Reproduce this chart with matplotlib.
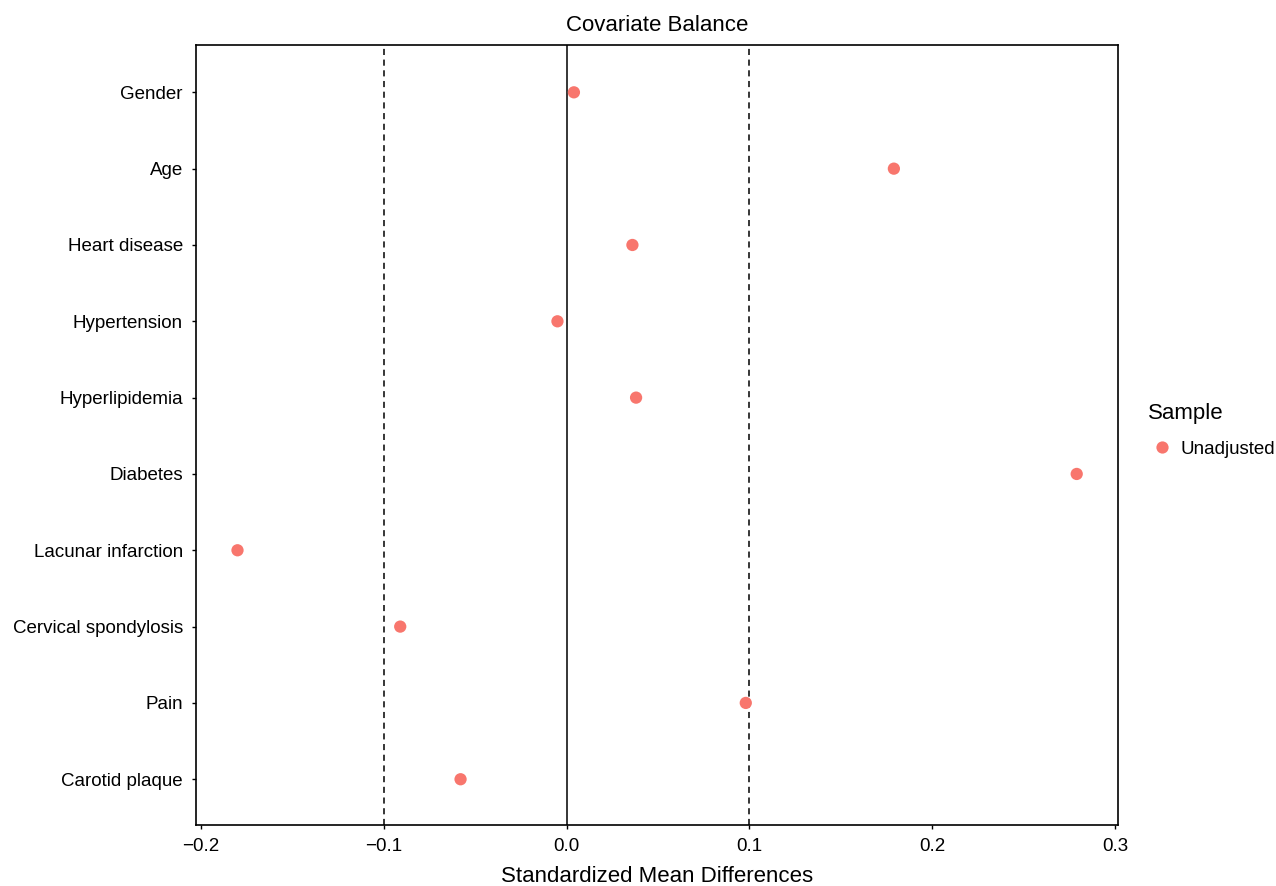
import matplotlib
matplotlib.use("Agg")
import matplotlib.pyplot as plt
from matplotlib.lines import Line2D

plt.rcParams['font.family'] = ['Liberation Sans', 'DejaVu Sans']

covariates = ['Gender', 'Age', 'Heart disease', 'Hypertension', 'Hyperlipidemia',
              'Diabetes', 'Lacunar infarction', 'Cervical spondylosis', 'Pain',
              'Carotid plaque']
smd = [0.004, 0.179, 0.036, -0.005, 0.038, 0.279, -0.180, -0.091, 0.098, -0.058]
xticks = [-0.2, -0.1, 0.0, 0.1, 0.2, 0.3]
xtick_labels = ['\u22120.2', '\u22120.1', '0.0', '0.1', '0.2', '0.3']

fig = plt.figure(figsize=(12.76, 8.86), dpi=100)
ax = fig.add_axes([0.1536, 0.0688, 0.7226, 0.8804])

ypos = list(range(len(covariates)))[::-1]

ax.axvline(0, color='black', lw=1.1, zorder=1)
for v in (-0.1, 0.1):
    ax.axvline(v, color='black', lw=1.1, ls=(0, (4, 3)), zorder=1)

ax.scatter(smd, ypos, s=78, color='#F8766D', edgecolors='none', zorder=3)

ax.set_xlim(-0.2027, 0.3016)
ax.set_ylim(-0.6, 9.62)
ax.set_xticks(xticks)
ax.set_xticklabels(xtick_labels)
ax.set_yticks(ypos)
ax.set_yticklabels(covariates)
ax.tick_params(axis='both', direction='out', length=3, width=1, color='black',
               labelsize=13.5, labelcolor='black')
ax.tick_params(axis='x', pad=6)
ax.tick_params(axis='y', pad=6.5)

for s in ax.spines.values():
    s.set_linewidth(1.2)
    s.set_color('black')

ax.set_title('Covariate Balance', fontsize=16, pad=10)
ax.set_xlabel('Standardized Mean Differences', fontsize=16, labelpad=8.5)

# legend: title as text, single entry below
fig.text(1148 / 1276, 1 - 414 / 886, 'Sample', fontsize=16, ha='left', va='center')
handle = Line2D([], [], marker='o', ls='none', markersize=8.8,
                markerfacecolor='#F8766D', markeredgecolor='none')
fig.legend([handle], ['Unadjusted'], loc='center left',
           bbox_to_anchor=(1153 / 1276, 1 - 449 / 886), frameon=False,
           fontsize=13.5, handletextpad=0.45, handlelength=1.0, borderpad=0,
           borderaxespad=0)

fig.savefig('out.png', dpi=100)
